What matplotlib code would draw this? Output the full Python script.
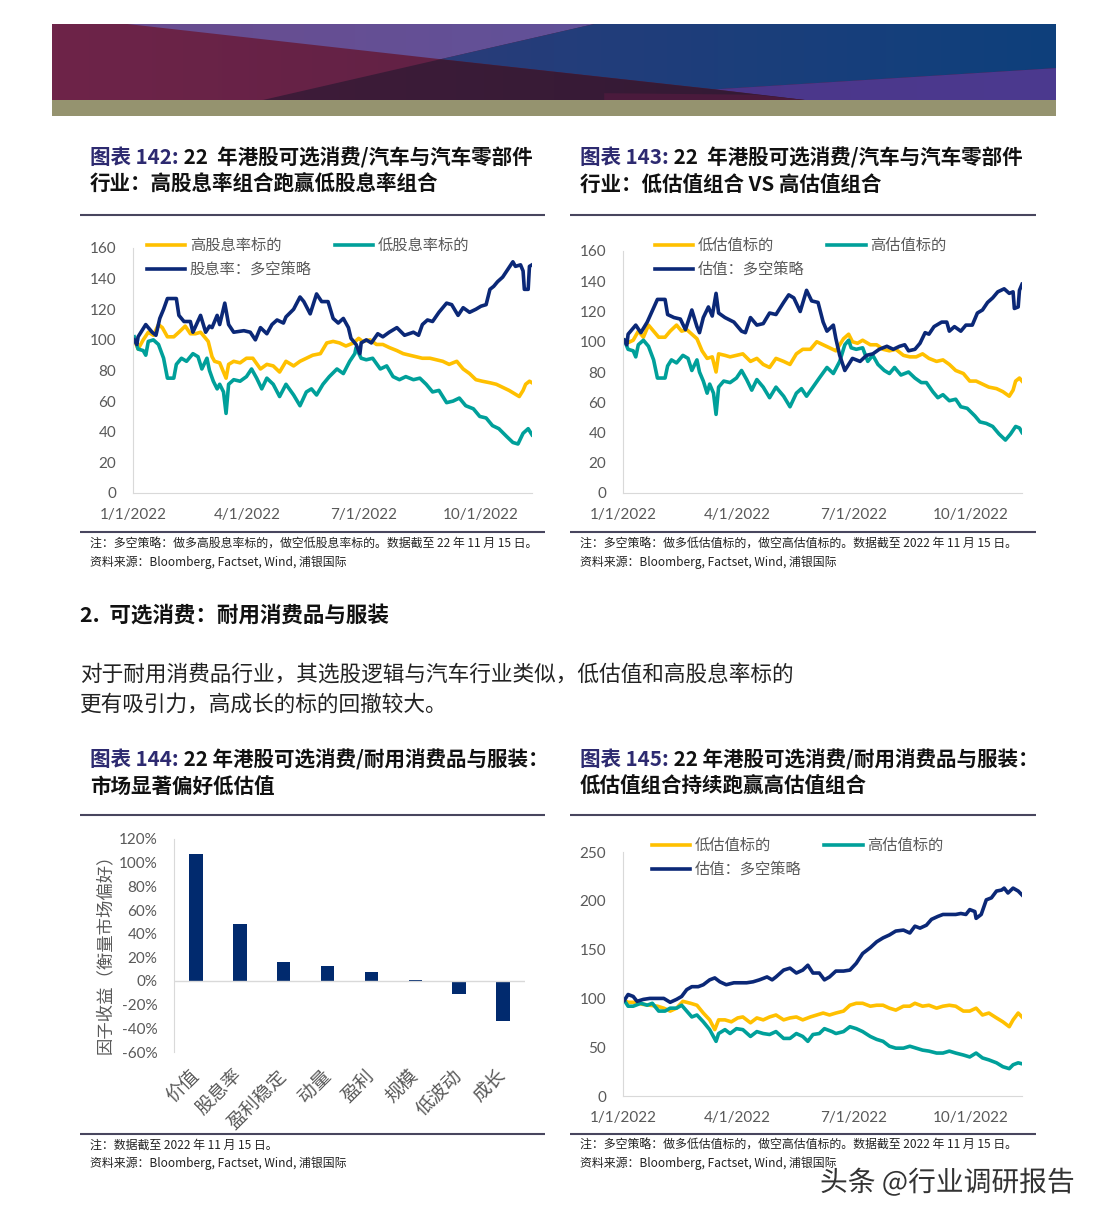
import numpy as np
import pandas as pd
import matplotlib
matplotlib.use('Agg')
import matplotlib.pyplot as plt
from matplotlib.patches import Polygon, Rectangle
from matplotlib.colors import LinearSegmentedColormap
import matplotlib.patheffects as pe

plt.rcParams['font.family'] = ['Noto Sans CJK SC', 'DejaVu Sans']

# ---- data (day offset from 1/1/2022, index level) ----
# chart 142: high dividend vs low dividend
nav142_d = [1,3,4,10,15,18,21,24,27,34,36,40,45,47,53,57,60,62,66,68,72,75,79,87,92,96,100,105,109,113,118,120,126,131,134,139,144,148,153,157,161,165,169,171,175,178,179,183,187,192,196,201,207,213,220,224,227,231,235,240,246,250,255,259,264,269,273,277,280,283,286,290,294,298,300,304,306,307,310,311,313]
nav142_v = [100,97,102,110,105,103,114,120,127,127,116,112,112,105,116,105,109,108,116,110,124,110,105,106,105,100,108,104,110,113,111,115,120,128,125,117,130,125,125,114,111,114,108,101,97,91,98,100,98,104,102,105,108,103,105,103,110,113,112,118,124,123,116,121,118,120,122,123,133,135,138,141,146,151,148,149,145,133,133,148,149]
yel142_d = [1,4,8,12,16,20,23,27,32,36,41,45,49,53,57,59,62,64,68,73,75,79,84,89,94,100,105,110,115,120,126,131,136,141,147,152,157,162,167,173,177,180,186,191,196,201,207,212,217,222,227,233,238,243,248,254,259,264,269,274,280,285,290,295,299,303,306,308,311,313]
yel142_v = [100,94,100,105,103,110,108,102,102,105,109,104,104,105,101,99,89,86,85,75,84,86,85,88,88,81,84,83,79,86,83,86,88,90,91,98,99,98,96,98,101,99,100,97,97,95,93,91,90,89,88,88,87,86,84,86,81,78,74,73,72,71,69,67,65,63,67,71,73,72]
teal142_d = [1,4,8,10,12,16,20,24,27,32,34,38,42,47,51,54,58,60,63,66,68,71,73,75,79,84,89,93,97,101,105,110,115,120,126,131,136,140,144,149,154,160,165,170,174,175,179,183,188,194,199,204,209,214,220,225,230,235,240,246,251,256,261,267,272,277,282,287,293,298,302,306,310,313]
teal142_v = [102,94,93,90,99,100,97,88,75,75,84,88,86,91,89,81,88,80,73,68,71,66,52,71,74,73,76,81,75,68,75,71,63,71,64,57,66,68,64,71,76,81,78,86,91,95,88,87,88,81,83,76,74,76,74,75,71,66,67,59,60,62,57,55,50,49,44,42,37,33,32,39,42,38]

# chart 143: low valuation vs high valuation
yel143_d = [1,3,8,12,16,20,24,28,33,37,42,46,50,54,58,62,66,70,73,75,80,84,89,94,100,105,110,115,120,126,131,136,141,147,152,157,162,167,173,177,180,184,188,194,199,204,209,214,220,225,230,235,240,246,251,256,261,267,272,277,282,287,293,298,303,306,308,311,313]
yel143_v = [101,99,101,107,103,111,107,103,103,107,111,107,108,105,102,94,89,90,80,92,91,90,91,92,87,89,85,83,89,87,85,92,95,95,100,98,96,94,102,105,100,99,101,98,98,95,94,95,91,90,90,92,89,87,88,85,81,79,74,74,72,70,69,67,64,68,74,76,74]
teal143_d = [1,4,8,10,12,16,20,24,27,33,35,38,42,47,51,54,58,60,63,66,68,71,73,75,79,84,89,93,97,101,105,110,115,120,126,131,136,140,144,149,154,160,165,170,174,177,179,183,188,192,196,200,205,209,213,218,224,229,234,238,243,247,251,256,261,265,270,276,280,285,290,295,300,304,308,311,313]
teal143_v = [101,95,94,90,98,101,97,88,76,76,84,88,86,91,89,81,88,80,74,66,72,66,52,70,74,73,76,81,75,68,75,70,63,70,64,57,66,69,64,70,76,83,79,87,98,101,96,95,96,87,91,85,81,79,83,78,80,76,73,73,67,63,65,61,62,57,56,51,47,46,44,39,35,39,44,43,40]
nav143_d = [1,3,4,10,14,19,27,33,35,40,45,49,54,58,60,63,67,70,73,75,80,87,93,96,100,105,110,115,120,126,130,134,139,144,148,153,157,160,165,167,170,174,177,180,186,191,196,201,207,212,217,221,224,229,233,237,240,244,250,254,256,260,265,269,274,278,282,286,290,294,299,303,306,307,310,311,313]
nav143_v = [101,98,105,111,106,113,128,128,118,116,115,108,121,110,106,116,123,117,132,119,116,113,107,106,116,111,112,119,118,126,131,129,120,134,127,126,113,107,111,102,91,81,85,89,87,91,92,95,97,95,97,98,94,95,99,106,105,110,113,113,107,110,107,111,111,119,121,126,129,133,135,132,133,122,123,134,138]

# chart 145: durables & apparel, low vs high valuation
nav145_d = [1,4,8,11,16,21,27,32,37,42,46,50,54,59,63,68,72,76,81,87,92,97,102,107,113,117,120,126,131,136,141,145,149,154,158,162,167,173,178,183,188,194,199,204,209,214,220,225,229,233,238,242,247,251,256,261,265,269,272,276,277,281,285,289,293,297,299,302,306,310,313]
nav145_v = [98,104,102,97,99,100,100,100,96,99,102,109,112,112,114,119,121,117,114,116,116,116,117,119,122,119,122,129,131,126,129,134,126,126,119,122,128,128,129,136,146,152,158,162,165,169,170,167,174,172,175,181,184,186,186,186,187,186,191,189,182,186,201,203,210,211,213,208,213,210,206]
yel145_d = [1,4,10,15,21,27,32,37,42,47,53,58,63,68,72,75,80,85,90,94,100,105,110,115,120,126,131,136,141,147,152,157,162,167,173,178,183,188,194,199,204,209,214,220,225,229,235,240,246,251,256,261,267,272,277,282,287,293,298,303,306,310,313]
yel145_v = [98,96,96,94,93,92,90,87,90,97,95,93,85,78,68,78,78,76,80,81,75,80,78,81,83,78,80,81,78,81,83,85,83,85,87,93,95,95,92,93,93,90,88,92,92,95,92,93,90,92,93,92,87,87,90,83,85,80,76,71,78,85,81]
teal145_d = [1,4,8,14,19,23,28,33,37,42,46,50,54,58,63,68,73,75,80,84,89,94,100,105,110,115,120,126,131,136,141,145,149,154,158,164,167,173,178,183,188,194,199,204,209,214,220,225,230,235,240,246,251,256,261,267,272,277,282,287,293,298,303,306,310,313]
teal145_v = [98,92,92,95,93,95,87,87,90,90,93,87,81,83,76,68,56,64,68,64,69,68,61,66,64,63,66,59,59,64,61,56,63,64,69,66,64,66,71,69,66,61,58,56,51,49,49,51,49,47,46,44,44,46,44,42,40,44,39,37,34,30,28,32,34,33]

# chart 144: factor returns
factors = ['价值', '股息率', '盈利稳定', '动量', '盈利', '规模', '低波动', '成长']
factor_ret = [107, 48, 16, 13, 8, 1, -11, -34]

tick_dates = ['2022-01-01', '2022-04-01', '2022-07-01', '2022-10-01']
tick_labels = ['1/1/2022', '4/1/2022', '7/1/2022', '10/1/2022']

YEL, TEAL, NAVY = '#FFC000', '#00A09A', '#0B2877'
GREY = '#595959'
base = pd.Timestamp('2022-01-01')

def to_dates(days):
    return base + pd.to_timedelta(days, unit='D')

W, H = 1101, 1221
fig = plt.figure(figsize=(W / 100, H / 100), dpi=100)
fig.patch.set_facecolor('white')

def box(x0, y0, x1, y1):
    return [x0 / W, 1 - y1 / H, (x1 - x0) / W, (y1 - y0) / H]

# ---- header banner ----
ab = fig.add_axes(box(52, 24, 1056, 116))
ab.axis('off')

def grad_poly(pts, c0, c1, z):
    poly = Polygon(pts, closed=True, facecolor='none', lw=0, zorder=z)
    ab.add_patch(poly)
    cmap = LinearSegmentedColormap.from_list('g', [c0, c1])
    im = ab.imshow(np.linspace(0, 1, 256)[None, :], extent=(0, 1, 0, 1), cmap=cmap,
                   aspect='auto', zorder=z, interpolation='bilinear')
    im.set_clip_path(poly)

grad_poly([(0, 0), (1, 0), (1, 1), (0, 1)], '#6E2449', '#4F1E3F', 1)
grad_poly([(0.075, 1), (0.54, 1), (0.387, 0.537)], '#6A4C8E', '#5A56A2', 2)
grad_poly([(0.54, 1), (1, 1), (1, 0.42), (0.66, 0.14), (0.387, 0.537)], '#3A3A78', '#0E407C', 2)
grad_poly([(0.66, 0.14), (1, 0.42), (1, 0), (0.75, 0)], '#4B2F80', '#4B3A8F', 2)
grad_poly([(0.387, 0.537), (0.66, 0.14), (0.75, 0), (0.21, 0)], '#421C3A', '#2E1A33', 2)
ab.add_patch(Polygon([(0.55, 0.09), (0.70, 0.07), (0.75, 0), (0.55, 0)], color='#4A1A3C', lw=0, zorder=3))
ab.add_patch(Rectangle((0, -0.21), 1, 0.21, color='#95936F', lw=0, zorder=3))
ab.set_xlim(0, 1)
ab.set_ylim(-0.21, 1)


def line_chart(rect, yel, teal, nav, labels, ymax, ystep, leg_xy):
    ax = fig.add_axes(box(*rect))
    l1, = ax.plot(to_dates(yel[0]), yel[1], color=YEL, lw=2.6)
    l2, = ax.plot(to_dates(teal[0]), teal[1], color=TEAL, lw=2.6)
    l3, = ax.plot(to_dates(nav[0]), nav[1], color=NAVY, lw=2.6)
    ax.set_xlim(base, base + pd.Timedelta(days=313))
    ax.set_ylim(0, ymax)
    ax.set_yticks(np.arange(0, ymax + 1, ystep))
    ax.set_xticks(pd.to_datetime(tick_dates))
    ax.set_xticklabels(tick_labels)
    for s in ['top', 'right']:
        ax.spines[s].set_visible(False)
    for s in ['left', 'bottom']:
        ax.spines[s].set_color('#D9D9D9')
    ax.tick_params(length=0, labelsize=11, labelcolor=GREY)
    ax.tick_params(axis='y', pad=12)
    ax.tick_params(axis='x', pad=11)
    for t in ax.get_xticklabels() + ax.get_yticklabels():
        t.set_family('Lato')
    leg = ax.legend([l1, l3, l2], [labels[0], labels[2], labels[1]], ncol=2,
                    loc='upper left', bbox_to_anchor=(leg_xy[0] / W, 1 - leg_xy[1] / H),
                    bbox_transform=fig.transFigure, frameon=False, fontsize=11,
                    handlelength=2.5, handletextpad=0.3, columnspacing=1.5,
                    labelspacing=0.45, borderpad=0, borderaxespad=0)
    for t in leg.get_texts():
        t.set_color(GREY)
    return ax

line_chart((133, 248, 532, 493), (yel142_d, yel142_v), (teal142_d, teal142_v), (nav142_d, nav142_v),
           ['高股息率标的', '低股息率标的', '股息率：多空策略'], 160, 20, (147, 237))
line_chart((623, 251, 1022, 493), (yel143_d, yel143_v), (teal143_d, teal143_v), (nav143_d, nav143_v),
           ['低估值标的', '高估值标的', '估值：多空策略'], 160, 20, (655, 237))
line_chart((623, 852, 1022, 1096), (yel145_d, yel145_v), (teal145_d, teal145_v), (nav145_d, nav145_v),
           ['低估值标的', '高估值标的', '估值：多空策略'], 250, 50, (652, 837))

# ---- bar chart 144 ----
axb = fig.add_axes(box(174, 839, 525, 1052))
x = np.arange(len(factors))
axb.bar(x, factor_ret, width=0.31, color='#012A6E')
axb.axhline(0, color='#D9D9D9', lw=1)
axb.set_xlim(-0.5, len(factors) - 0.5)
axb.set_ylim(-60, 120)
axb.set_yticks(np.arange(-60, 121, 20))
axb.set_yticklabels([f'{v}%' for v in range(-60, 121, 20)])
axb.set_xticks(x)
axb.set_xticklabels(factors, rotation=45, ha='right', va='center', rotation_mode='anchor')
for s in ['top', 'right', 'bottom']:
    axb.spines[s].set_visible(False)
axb.spines['left'].set_color('#D9D9D9')
axb.tick_params(length=0, labelcolor=GREY)
axb.tick_params(axis='y', pad=12, labelsize=11)
axb.tick_params(axis='x', pad=15, labelsize=13.5)
for t in axb.get_yticklabels():
    t.set_family('Lato')

# ---- overlay for page text and rules ----
ov = fig.add_axes([0, 0, 1, 1])
ov.set_xlim(0, 1)
ov.set_ylim(0, 1)
ov.axis('off')

def hline(x0, x1, y, lw=1.5, color='#48465E'):
    ov.plot([x0 / W, x1 / W], [1 - y / H, 1 - y / H], color=color, lw=lw, solid_capstyle='butt')

def txt(x, y, s, **kw):
    return ov.text(x / W, 1 - y / H, s, va='center', **kw)

def title(x, y, num, rest, line2):
    t = txt(x, y, '图表 ' + num + ':', color='#2D2A70', fontsize=14.8, fontweight='bold')
    ov.annotate(' ' + rest, xy=(1, 0.5), xycoords=t, va='center', ha='left',
                fontsize=14.8, fontweight='bold', color='#111111')
    txt(x, y + 26, line2, fontsize=14.8, fontweight='bold', color='#111111')

title(90, 158, '142', '22  年港股可选消费/汽车与汽车零部件', '行业：高股息率组合跑赢低股息率组合')
title(580, 158, '143', '22  年港股可选消费/汽车与汽车零部件', '行业：低估值组合 VS 高估值组合')
title(90, 760, '144', '22 年港股可选消费/耐用消费品与服装：', '市场显著偏好低估值')
title(580, 760, '145', '22 年港股可选消费/耐用消费品与服装：', '低估值组合持续跑赢高估值组合')

for y in (215, 532, 815, 1134):
    hline(80, 545, y)
    hline(570, 1036, y)

src = '资料来源：Bloomberg, Factset, Wind, 浦银国际'
note_val = '注：多空策略：做多低估值标的，做空高估值标的。数据截至 2022 年 11 月 15 日。'
fs_note = 8.6
txt(90, 544, '注：多空策略：做多高股息率标的，做空低股息率标的。数据截至 22 年 11 月 15 日。', fontsize=fs_note, color='#222222')
txt(90, 562, src, fontsize=fs_note, color='#222222')
txt(580, 544, note_val, fontsize=fs_note, color='#222222')
txt(580, 562, src, fontsize=fs_note, color='#222222')
txt(90, 1145, '注：数据截至 2022 年 11 月 15 日。', fontsize=fs_note, color='#222222')
txt(90, 1163, src, fontsize=fs_note, color='#222222')
txt(580, 1145, note_val, fontsize=fs_note, color='#222222')
txt(580, 1163, src, fontsize=fs_note, color='#222222')

txt(80, 616, '2.  可选消费：耐用消费品与服装', fontsize=15.5, fontweight='bold', color='#111111')
txt(80, 675, '对于耐用消费品行业，其选股逻辑与汽车行业类似，低估值和高股息率标的', fontsize=15.6, color='#222222')
txt(80, 705, '更有吸引力，高成长的标的回撤较大。', fontsize=15.6, color='#222222')

txt(105, 950, '因子收益（衡量市场偏好）', fontsize=12.5, color=GREY, rotation=90, ha='center')

wm = txt(820, 1183, '头条 @行业调研报告', fontsize=20, color='#333333')
wm.set_path_effects([pe.withStroke(linewidth=3, foreground='white')])

fig.savefig('out.png', dpi=100, facecolor='white')
